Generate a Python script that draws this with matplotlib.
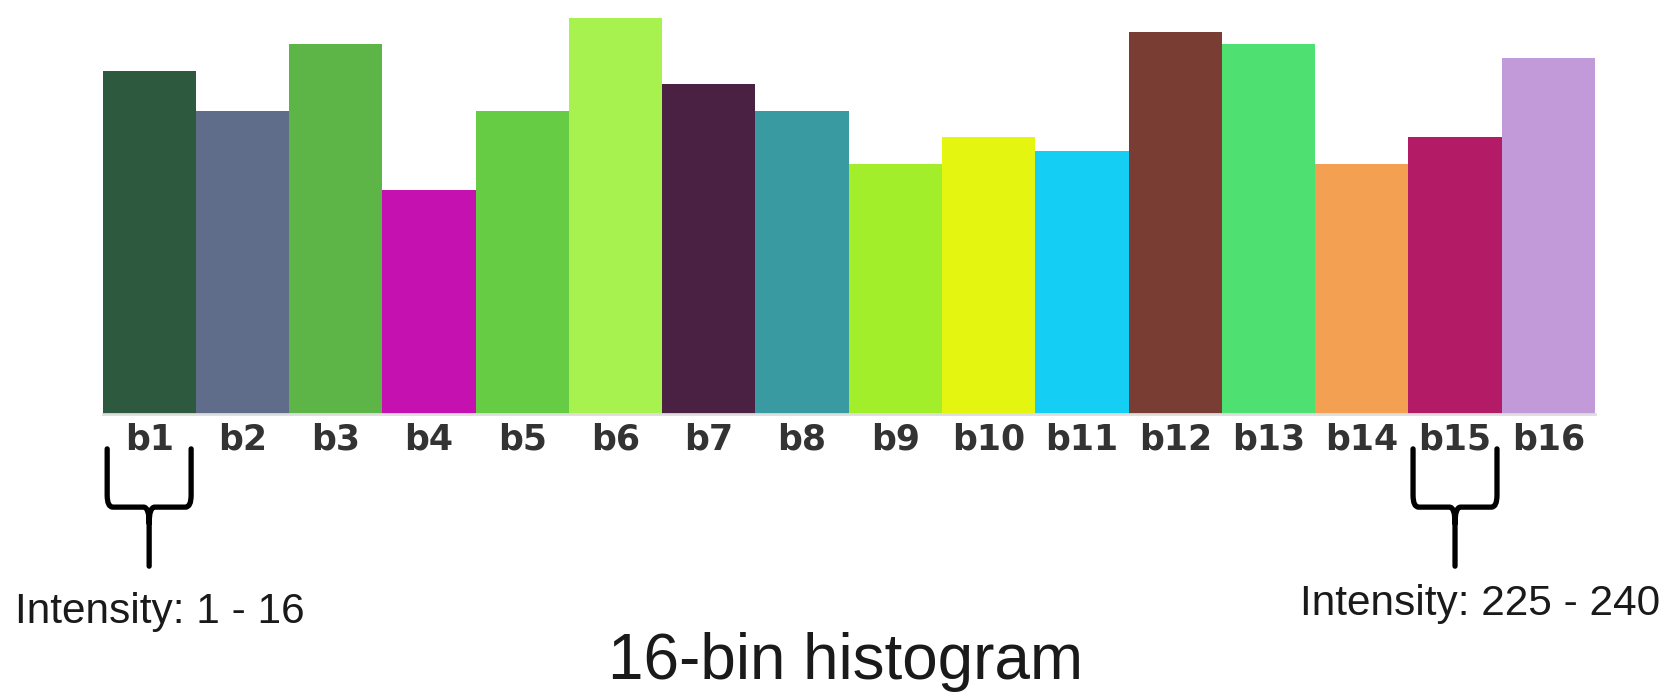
import matplotlib.pyplot as plt
from matplotlib.path import Path
from matplotlib.patches import PathPatch
from matplotlib.transforms import blended_transform_factory

BINS = ['b%d' % i for i in range(1, 17)]
COUNTS = [344, 304, 371, 225, 304, 397, 331, 304, 251, 278, 264, 383, 371, 251, 278, 357]
COLORS = ['#2d5a3f', '#5f6d8a', '#5db447', '#c511b0', '#66cc44', '#a8f24f', '#4a2142', '#3a9aa1',
          '#a3ee2a', '#e4f510', '#14cef4', '#7a3d34', '#4ee070', '#f4a052', '#b41b66', '#c39ad9']
BRACES = [(0, 'Intensity: 1 - 16'), (14, 'Intensity: 225 - 240')]


def draw_brace(ax, center):
    tr = blended_transform_factory(ax.transData, ax.transAxes)
    x0, x1 = center - 0.45, center + 0.45
    y_top, y_mid, y_bot = -0.085, -0.229, -0.375
    r = 0.06
    verts = [(x0, y_top), (x0, y_mid + 0.03), (x0, y_mid), (x0 + r, y_mid),
             (center - r, y_mid), (center, y_mid), (center, y_mid - 0.04), (center, y_bot),
             (center, y_mid - 0.04), (center, y_mid), (center + r, y_mid),
             (x1 - r, y_mid), (x1, y_mid), (x1, y_mid + 0.03), (x1, y_top)]
    codes = [Path.MOVETO, Path.LINETO, Path.CURVE3, Path.CURVE3,
             Path.LINETO, Path.CURVE3, Path.CURVE3, Path.LINETO,
             Path.MOVETO, Path.CURVE3, Path.CURVE3,
             Path.LINETO, Path.CURVE3, Path.CURVE3, Path.LINETO]
    patch = PathPatch(Path(verts, codes), transform=tr, fill=False, lw=3.8,
                      edgecolor='black', capstyle='round', joinstyle='round', clip_on=False)
    ax.add_patch(patch)


fig = plt.figure(figsize=(16.75, 6.95), dpi=100)
ax = fig.add_axes([0.0612, 0.4036, 0.891, 0.582])

x = list(range(len(BINS)))
ax.bar(x, COUNTS, width=1.0, color=COLORS, edgecolor='none')
ax.set_xlim(-0.5, 15.5)
ax.set_ylim(0, 404.5)
ax.set_xticks(x)
ax.set_xticklabels(BINS, fontsize=25, fontweight='bold', color='#333333', family='DejaVu Sans')
ax.tick_params(axis='x', length=0, pad=6)
ax.set_yticks([])
for side in ['top', 'left', 'right']:
    ax.spines[side].set_visible(False)
ax.spines['bottom'].set_color('#dddddd')
ax.spines['bottom'].set_linewidth(2)

for idx, label in BRACES:
    draw_brace(ax, idx)

fig.text(0.009, 0.119, BRACES[0][1], fontsize=30.5, family='Liberation Sans',
         color='#1a1a1a', ha='left', va='center')
fig.text(0.776, 0.131, BRACES[1][1], fontsize=30.5, family='Liberation Sans',
         color='#1a1a1a', ha='left', va='center')
fig.text(0.505, 0.0475, '16-bin histogram', fontsize=46, family='Liberation Sans',
         color='#1a1a1a', ha='center', va='center')

fig.savefig('out.png', dpi=100)
